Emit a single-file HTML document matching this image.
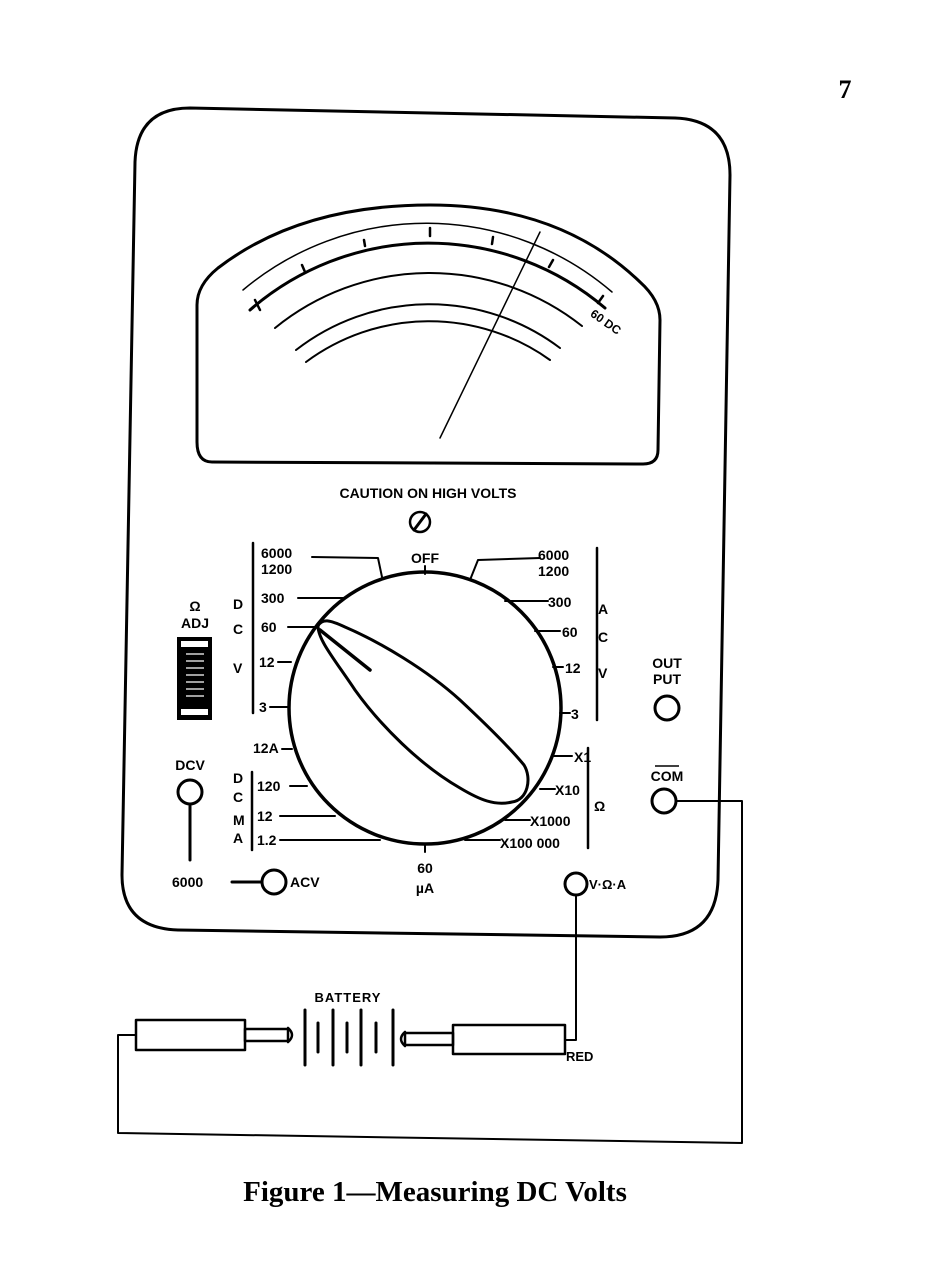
<!DOCTYPE html>
<html><head><meta charset="utf-8"><style>
html,body{margin:0;padding:0;background:#fff;}
svg{display:block;}
text{font-family:"Liberation Sans",sans-serif;font-weight:bold;fill:#000;}
text.serif{font-family:"Liberation Serif",serif;}
</style></head><body>
<svg width="938" height="1282" viewBox="0 0 938 1282" xmlns="http://www.w3.org/2000/svg">
<g fill="none" stroke="#000" stroke-width="3" stroke-linecap="round" stroke-linejoin="round">
<path d="M190,108 L675,118 Q730,120 730,175 L718,880 Q716,937 660,937 L178,930 Q122,928 122,875 L135,162 Q137,108 190,108 Z"/>
<path d="M212,462 L643,464 Q658,464 658,450 L660,320 Q660,300 640,282 Q560,205 430,205 Q300,205 218,268 Q197,285 197,305 L197,442 Q197,462 212,462 Z"/>
<path d="M243,290 A285,285 0 0 1 612,292" stroke-width="1.5"/>
<path d="M250,310 A272,272 0 0 1 605,308" stroke-width="3"/>
<path d="M275,328 A245,245 0 0 1 582,326" stroke-width="2"/>
<path d="M296,350 A217,217 0 0 1 560,348" stroke-width="2"/>
<path d="M306,362 A207,207 0 0 1 550,360" stroke-width="2"/>
<g stroke-width="2.5">
<line x1="255" y1="300" x2="260" y2="310"/><line x1="302" y1="265" x2="305" y2="272"/>
<line x1="364" y1="240" x2="365" y2="246"/><line x1="430" y1="228" x2="430" y2="236"/>
<line x1="493" y1="237" x2="492" y2="244"/><line x1="553" y1="260" x2="549" y2="267"/>
<line x1="603" y1="296" x2="598" y2="303"/>
</g>
<line x1="440" y1="438" x2="540" y2="232" stroke-width="1.5"/>
<circle cx="420" cy="522" r="10" stroke-width="2.5"/>
<line x1="414" y1="530" x2="426" y2="514" stroke-width="3"/>
<circle cx="425" cy="708" r="136" stroke-width="3.5"/>
<path d="M318,626 C322,618 330,620 345,627 C380,642 427,670 460,700 C490,728 510,748 524,765 C532,778 528,800 512,802 C495,806 480,800 460,788 C420,765 380,725 355,690 C335,660 318,640 318,626 Z"/>
<line x1="320" y1="630" x2="370" y2="670" stroke-width="3.5"/>
<g stroke-width="2">
<polyline points="312,557 378,558 382,577"/>
<line x1="425" y1="566" x2="425" y2="574"/>
<polyline points="470,580 478,560 540,558"/>
<line x1="298" y1="598" x2="345" y2="598"/>
<line x1="288" y1="627" x2="318" y2="627"/>
<line x1="278" y1="662" x2="291" y2="662"/>
<line x1="270" y1="707" x2="288" y2="707"/>
<line x1="282" y1="749" x2="292" y2="749"/>
<line x1="505" y1="601" x2="548" y2="601"/>
<line x1="535" y1="631" x2="560" y2="631"/>
<line x1="553" y1="667" x2="563" y2="667"/>
<line x1="560" y1="713" x2="570" y2="713"/>
<line x1="553" y1="756" x2="572" y2="756"/>
<line x1="540" y1="789" x2="555" y2="789"/>
<line x1="505" y1="820" x2="530" y2="820"/>
<line x1="465" y1="840" x2="500" y2="840"/>
<line x1="290" y1="786" x2="307" y2="786"/>
<line x1="280" y1="816" x2="335" y2="816"/>
<line x1="280" y1="840" x2="380" y2="840"/>
<line x1="425" y1="844" x2="425" y2="852"/>
</g>
<g stroke-width="2.5">
<line x1="253" y1="543" x2="253" y2="713"/>
<line x1="597" y1="548" x2="597" y2="720"/>
<line x1="252" y1="772" x2="252" y2="850"/>
<line x1="588" y1="748" x2="588" y2="848"/>
</g>
<circle cx="190" cy="792" r="12"/>
<line x1="190" y1="804" x2="190" y2="860"/>
<line x1="232" y1="882" x2="262" y2="882"/>
<circle cx="274" cy="882" r="12"/>
<circle cx="667" cy="708" r="12"/>
<circle cx="664" cy="801" r="12"/>
<circle cx="576" cy="884" r="11"/>
<polyline points="676,801 742,801 742,1143 118,1133 118,1035 136,1035" stroke-width="2"/>
<polyline points="576,895 576,1040 565,1040" stroke-width="2"/>
<rect x="136" y="1020" width="109" height="30" stroke-width="2.5"/>
<rect x="245" y="1029" width="43" height="12" stroke-width="2.5"/>
<path d="M288,1028 Q296,1035 288,1042" stroke-width="2.5"/>
<rect x="453" y="1025" width="112" height="29" stroke-width="2.5"/>
<rect x="405" y="1033" width="48" height="12" stroke-width="2.5"/>
<path d="M405,1032 Q397,1039 405,1046" stroke-width="2.5"/>
<g stroke-width="3">
<line x1="305" y1="1010" x2="305" y2="1065"/><line x1="318" y1="1023" x2="318" y2="1052"/>
<line x1="333" y1="1010" x2="333" y2="1065"/><line x1="347" y1="1023" x2="347" y2="1052"/>
<line x1="361" y1="1010" x2="361" y2="1065"/><line x1="376" y1="1023" x2="376" y2="1052"/>
<line x1="393" y1="1010" x2="393" y2="1065"/>
</g>
</g>
<rect x="177" y="637" width="35" height="83" fill="#000"/>
<rect x="181" y="641" width="27" height="6" fill="#fff"/>
<rect x="181" y="709" width="27" height="6" fill="#fff"/>
<g stroke="#fff" stroke-width="1.2">
<line x1="186" y1="654" x2="204" y2="654"/><line x1="186" y1="661" x2="204" y2="661"/>
<line x1="186" y1="668" x2="204" y2="668"/><line x1="186" y1="675" x2="204" y2="675"/>
<line x1="186" y1="682" x2="204" y2="682"/><line x1="186" y1="689" x2="204" y2="689"/>
<line x1="186" y1="696" x2="204" y2="696"/>
</g>
<text class="serif" x="845" y="98" font-size="26" text-anchor="middle">7</text>
<text x="428" y="498" font-size="14" text-anchor="middle">CAUTION ON HIGH VOLTS</text>
<text x="590" y="322" font-size="12" transform="rotate(35 600 318)">60 DC</text>
<g font-size="14">
<text x="261" y="558">6000</text><text x="261" y="574">1200</text>
<text x="425" y="563" text-anchor="middle">OFF</text>
<text x="538" y="560">6000</text><text x="538" y="576">1200</text>
<text x="261" y="603">300</text><text x="261" y="632">60</text>
<text x="259" y="667">12</text><text x="259" y="712">3</text>
<text x="253" y="753">12A</text>
<text x="548" y="607">300</text><text x="562" y="637">60</text>
<text x="565" y="673">12</text><text x="571" y="719">3</text>
<text x="574" y="762">X1</text><text x="555" y="795">X10</text>
<text x="530" y="826">X1000</text><text x="500" y="848">X100 000</text>
<text x="257" y="791">120</text><text x="257" y="821">12</text><text x="257" y="845">1.2</text>
<text x="233" y="609">D</text><text x="233" y="634">C</text><text x="233" y="673">V</text>
<text x="598" y="614">A</text><text x="598" y="642">C</text><text x="598" y="678">V</text>
<text x="233" y="783">D</text><text x="233" y="802">C</text><text x="233" y="825">M</text><text x="233" y="843">A</text>
<text x="594" y="811">Ω</text>
<text x="425" y="873" text-anchor="middle">60</text><text x="425" y="893" text-anchor="middle">µA</text>
<text x="195" y="611" text-anchor="middle">Ω</text><text x="195" y="628" text-anchor="middle">ADJ</text>
<text x="190" y="770" text-anchor="middle">DCV</text>
<text x="172" y="887">6000</text><text x="290" y="887">ACV</text>
<text x="667" y="668" text-anchor="middle">OUT</text><text x="667" y="684" text-anchor="middle">PUT</text>
<text x="667" y="781" text-anchor="middle">COM</text>
<text x="589" y="889" font-size="13">V·Ω·A</text>
<text x="348" y="1002" text-anchor="middle" font-size="13" letter-spacing="1">BATTERY</text>
<text x="566" y="1061" font-size="13">RED</text>
</g>
<line x1="655" y1="766" x2="679" y2="766" stroke="#000" stroke-width="1.5"/>
<text class="serif" x="435" y="1201" font-size="29" text-anchor="middle">Figure 1—Measuring DC Volts</text>
</svg>
</body></html>
